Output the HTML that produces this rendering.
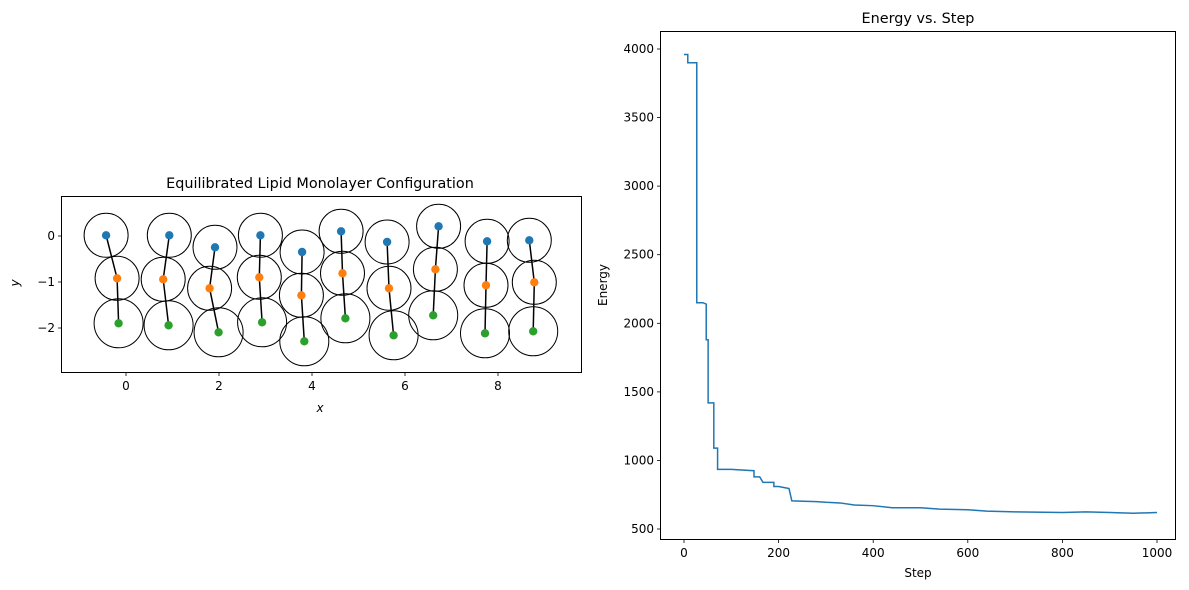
<!DOCTYPE html>
<html><head><meta charset="utf-8"><style>
html,body{margin:0;padding:0;background:#fff;}
svg{display:block;font-family:"DejaVu Sans","Liberation Sans",sans-serif;}
</style></head><body>
<svg width="1189" height="590" viewBox="0 0 1189 590" xmlns="http://www.w3.org/2000/svg">
<rect width="1189" height="590" fill="#fff"/>
<!-- LEFT -->
<text x="320" y="188" font-size="14.4" text-anchor="middle">Equilibrated Lipid Monolayer Configuration</text>
<g stroke="#000" stroke-width="1.5" fill="none">
<polyline points="106.1,235.3 117.1,278.3 118.6,323.3"/>
<polyline points="169.3,235.3 163.2,279.3 168.6,325.3"/>
<polyline points="215,247.3 209.6,288.3 218.6,332.3"/>
<polyline points="260.4,235.3 259.3,277.3 262.1,322.3"/>
<polyline points="302.1,252 301.4,295.3 304.3,341.3"/>
<polyline points="341.1,231.3 342.5,273.3 345.4,318.3"/>
<polyline points="387.1,242 389,288.3 393.6,335.3"/>
<polyline points="438.6,226.3 435.4,269.3 433.2,315.3"/>
<polyline points="487.1,241.3 486,285.3 485,333.3"/>
<polyline points="529.3,240.3 534.3,282.3 533.2,331.3"/>
</g>
<g stroke="#000" stroke-width="1" fill="none">
<circle cx="106.1" cy="235.3" r="22"/><circle cx="117.1" cy="278.3" r="22"/><circle cx="118.6" cy="323.3" r="24.5"/>
<circle cx="169.3" cy="235.3" r="22"/><circle cx="163.2" cy="279.3" r="22"/><circle cx="168.6" cy="325.3" r="24.5"/>
<circle cx="215" cy="247.3" r="22"/><circle cx="209.6" cy="288.3" r="22"/><circle cx="218.6" cy="332.3" r="24.5"/>
<circle cx="260.4" cy="235.3" r="22"/><circle cx="259.3" cy="277.3" r="22"/><circle cx="262.1" cy="322.3" r="24.5"/>
<circle cx="302.1" cy="252" r="22"/><circle cx="301.4" cy="295.3" r="22"/><circle cx="304.3" cy="341.3" r="24.5"/>
<circle cx="341.1" cy="231.3" r="22"/><circle cx="342.5" cy="273.3" r="22"/><circle cx="345.4" cy="318.3" r="24.5"/>
<circle cx="387.1" cy="242" r="22"/><circle cx="389" cy="288.3" r="22"/><circle cx="393.6" cy="335.3" r="24.5"/>
<circle cx="438.6" cy="226.3" r="22"/><circle cx="435.4" cy="269.3" r="22"/><circle cx="433.2" cy="315.3" r="24.5"/>
<circle cx="487.1" cy="241.3" r="22"/><circle cx="486" cy="285.3" r="22"/><circle cx="485" cy="333.3" r="24.5"/>
<circle cx="529.3" cy="240.3" r="22"/><circle cx="534.3" cy="282.3" r="22"/><circle cx="533.2" cy="331.3" r="24.5"/>
</g>
<g fill="#1f77b4">
<circle cx="106.1" cy="235.3" r="4.2"/><circle cx="169.3" cy="235.3" r="4.2"/><circle cx="215" cy="247.3" r="4.2"/><circle cx="260.4" cy="235.3" r="4.2"/><circle cx="302.1" cy="252" r="4.2"/><circle cx="341.1" cy="231.3" r="4.2"/><circle cx="387.1" cy="242" r="4.2"/><circle cx="438.6" cy="226.3" r="4.2"/><circle cx="487.1" cy="241.3" r="4.2"/><circle cx="529.3" cy="240.3" r="4.2"/>
</g>
<g fill="#ff7f0e">
<circle cx="117.1" cy="278.3" r="4.2"/><circle cx="163.2" cy="279.3" r="4.2"/><circle cx="209.6" cy="288.3" r="4.2"/><circle cx="259.3" cy="277.3" r="4.2"/><circle cx="301.4" cy="295.3" r="4.2"/><circle cx="342.5" cy="273.3" r="4.2"/><circle cx="389" cy="288.3" r="4.2"/><circle cx="435.4" cy="269.3" r="4.2"/><circle cx="486" cy="285.3" r="4.2"/><circle cx="534.3" cy="282.3" r="4.2"/>
</g>
<g fill="#2ca02c">
<circle cx="118.6" cy="323.3" r="4.2"/><circle cx="168.6" cy="325.3" r="4.2"/><circle cx="218.6" cy="332.3" r="4.2"/><circle cx="262.1" cy="322.3" r="4.2"/><circle cx="304.3" cy="341.3" r="4.2"/><circle cx="345.4" cy="318.3" r="4.2"/><circle cx="393.6" cy="335.3" r="4.2"/><circle cx="433.2" cy="315.3" r="4.2"/><circle cx="485" cy="333.3" r="4.2"/><circle cx="533.2" cy="331.3" r="4.2"/>
</g>
<rect x="61.5" y="196.5" width="520" height="176" fill="none" stroke="#000" stroke-width="1"/>
<g stroke="#000" stroke-width="0.8">
<line x1="126" y1="372.5" x2="126" y2="376"/><line x1="219" y1="372.5" x2="219" y2="376"/><line x1="312" y1="372.5" x2="312" y2="376"/><line x1="405" y1="372.5" x2="405" y2="376"/><line x1="498" y1="372.5" x2="498" y2="376"/>
<line x1="58" y1="236" x2="61.5" y2="236"/><line x1="58" y1="282" x2="61.5" y2="282"/><line x1="58" y1="328" x2="61.5" y2="328"/>
</g>
<g font-size="12" text-anchor="middle">
<text x="126" y="390">0</text><text x="219" y="390">2</text><text x="312" y="390">4</text><text x="405" y="390">6</text><text x="498" y="390">8</text>
<text x="320" y="412" font-style="italic">x</text>
</g>
<g font-size="12" text-anchor="end">
<text x="55" y="240">0</text><text x="55" y="286">−1</text><text x="55" y="332">−2</text>
</g>
<text transform="translate(19,283) rotate(-90)" font-size="12" font-style="italic" text-anchor="middle">y</text>
<!-- RIGHT -->
<text x="918" y="23" font-size="14.4" text-anchor="middle">Energy vs. Step</text>
<g transform="translate(684,597.57) scale(0.473,-0.13714)">
<path d="M0 3960 H8 V3900 H27 V2150 H40 L47 2140 V1880 H51 V1420 H63 V1090 H71 V935 H100 L148 925 V880 H160 L167 840 H190 V810 H200 L222 795 L228 705 L280 700 L300 695 L330 690 L360 675 L400 670 L440 655 L500 655 L540 645 L600 640 L640 630 L700 625 L800 620 L850 625 L900 620 L950 615 L1000 620" fill="none" stroke="#1f77b4" stroke-width="1.5" vector-effect="non-scaling-stroke"/>
</g>
<rect x="660.5" y="31.5" width="515" height="508" fill="none" stroke="#000" stroke-width="1"/>
<g stroke="#000" stroke-width="0.8">
<line x1="684" y1="539.5" x2="684" y2="543"/><line x1="778.6" y1="539.5" x2="778.6" y2="543"/><line x1="873.2" y1="539.5" x2="873.2" y2="543"/><line x1="967.8" y1="539.5" x2="967.8" y2="543"/><line x1="1062.4" y1="539.5" x2="1062.4" y2="543"/><line x1="1157" y1="539.5" x2="1157" y2="543"/>
<line x1="657" y1="49" x2="660.5" y2="49"/><line x1="657" y1="117.6" x2="660.5" y2="117.6"/><line x1="657" y1="186.1" x2="660.5" y2="186.1"/><line x1="657" y1="254.7" x2="660.5" y2="254.7"/><line x1="657" y1="323.3" x2="660.5" y2="323.3"/><line x1="657" y1="391.9" x2="660.5" y2="391.9"/><line x1="657" y1="460.4" x2="660.5" y2="460.4"/><line x1="657" y1="529" x2="660.5" y2="529"/>
</g>
<g font-size="12" text-anchor="middle">
<text x="684" y="557">0</text><text x="778.6" y="557">200</text><text x="873.2" y="557">400</text><text x="967.8" y="557">600</text><text x="1062.4" y="557">800</text><text x="1157" y="557">1000</text>
<text x="918" y="577">Step</text>
</g>
<g font-size="12" text-anchor="end">
<text x="654" y="53">4000</text><text x="654" y="121.6">3500</text><text x="654" y="190.1">3000</text><text x="654" y="258.7">2500</text><text x="654" y="327.3">2000</text><text x="654" y="395.9">1500</text><text x="654" y="464.4">1000</text><text x="654" y="533">500</text>
</g>
<text transform="translate(607,285) rotate(-90)" font-size="12" text-anchor="middle">Energy</text>
</svg>
</body></html>
